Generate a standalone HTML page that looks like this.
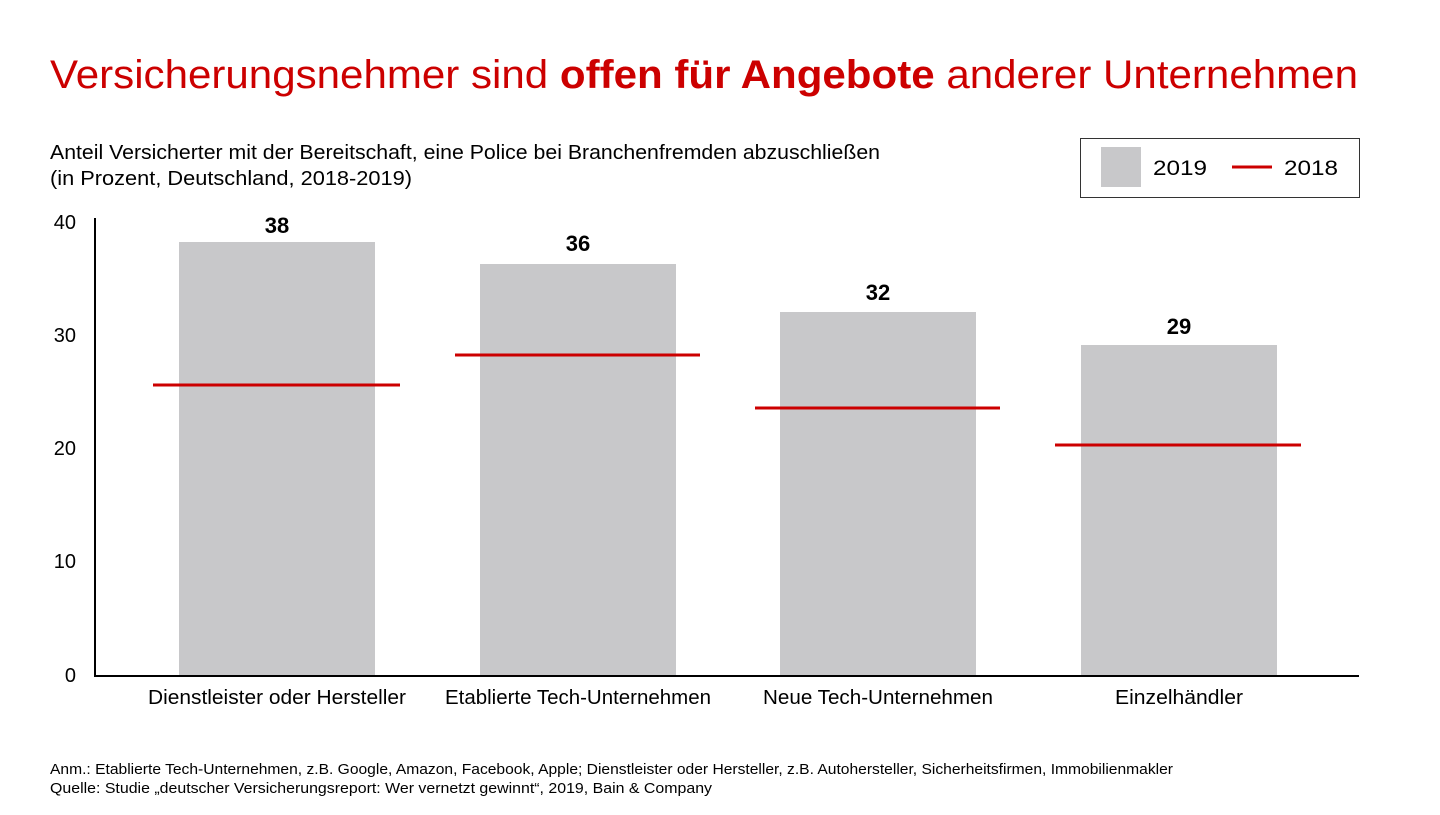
<!DOCTYPE html>
<html><head><meta charset="utf-8"><style>
body{margin:0;width:1440px;height:810px;background:#fff;font-family:"Liberation Sans",sans-serif;overflow:hidden}
</style></head><body>
<svg width="1440" height="810" xmlns="http://www.w3.org/2000/svg" font-family="Liberation Sans, sans-serif">
<text x="50" y="88" font-size="40" fill="#cc0000" textLength="1308" lengthAdjust="spacingAndGlyphs">Versicherungsnehmer sind <tspan font-weight="bold">offen für Angebote</tspan> anderer Unternehmen</text>
<text x="50" y="159" font-size="20" fill="#000" textLength="830" lengthAdjust="spacingAndGlyphs">Anteil Versicherter mit der Bereitschaft, eine Police bei Branchenfremden abzuschließen</text>
<text x="50" y="185" font-size="20" fill="#000" textLength="362" lengthAdjust="spacingAndGlyphs">(in Prozent, Deutschland, 2018-2019)</text>
<rect x="1080.5" y="138.5" width="279" height="59" fill="none" stroke="#333" stroke-width="1"/>
<rect x="1101" y="147" width="40" height="40" fill="#c8c8ca"/>
<text x="1153" y="175" font-size="21" textLength="54" lengthAdjust="spacingAndGlyphs">2019</text>
<line x1="1232" y1="167" x2="1272" y2="167" stroke="#cc0000" stroke-width="3"/>
<text x="1284" y="175" font-size="21" textLength="54" lengthAdjust="spacingAndGlyphs">2018</text>
<g font-size="20" text-anchor="end">
<text x="76" y="229">40</text><text x="76" y="342">30</text><text x="76" y="455">20</text><text x="76" y="568">10</text><text x="76" y="682">0</text>
</g>
<g fill="#c8c8ca">
<rect x="179" y="242" width="196" height="434"/>
<rect x="480" y="264" width="196" height="412"/>
<rect x="780" y="312" width="196" height="364"/>
<rect x="1081" y="345" width="196" height="331"/>
</g>
<g stroke="#cc0000" stroke-width="3">
<line x1="153" y1="385" x2="400" y2="385"/>
<line x1="455" y1="355" x2="700" y2="355"/>
<line x1="755" y1="408" x2="1000" y2="408"/>
<line x1="1055" y1="445" x2="1301" y2="445"/>
</g>
<line x1="95" y1="218" x2="95" y2="677" stroke="#000" stroke-width="2"/>
<line x1="94" y1="676" x2="1359" y2="676" stroke="#000" stroke-width="2"/>
<g font-size="22" font-weight="bold" text-anchor="middle">
<text x="277" y="233">38</text><text x="578" y="251">36</text><text x="878" y="300">32</text><text x="1179" y="334">29</text>
</g>
<g font-size="20" text-anchor="middle">
<text x="277" y="704" textLength="258" lengthAdjust="spacingAndGlyphs">Dienstleister oder Hersteller</text>
<text x="578" y="704" textLength="266" lengthAdjust="spacingAndGlyphs">Etablierte Tech-Unternehmen</text>
<text x="878" y="704" textLength="230" lengthAdjust="spacingAndGlyphs">Neue Tech-Unternehmen</text>
<text x="1179" y="704" textLength="128" lengthAdjust="spacingAndGlyphs">Einzelhändler</text>
</g>
<text x="50" y="774" font-size="15" textLength="1123" lengthAdjust="spacingAndGlyphs">Anm.: Etablierte Tech-Unternehmen, z.B. Google, Amazon, Facebook, Apple; Dienstleister oder Hersteller, z.B. Autohersteller, Sicherheitsfirmen, Immobilienmakler</text>
<text x="50" y="793" font-size="15" textLength="662" lengthAdjust="spacingAndGlyphs">Quelle: Studie „deutscher Versicherungsreport: Wer vernetzt gewinnt“, 2019, Bain &amp; Company</text>
</svg>
</body></html>
